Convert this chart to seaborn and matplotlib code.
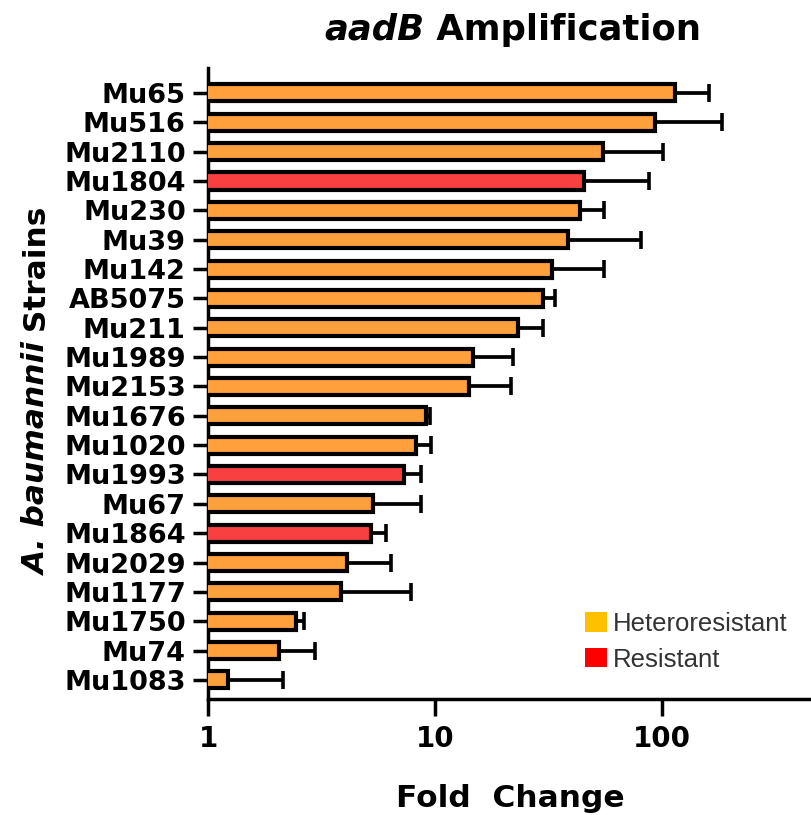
import numpy as np
import pandas as pd
import matplotlib
matplotlib.use("Agg")
import matplotlib.pyplot as plt
from matplotlib.patches import Patch
from matplotlib.ticker import NullLocator, FixedLocator, FixedFormatter
import seaborn as sns

strains = ["Mu65", "Mu516", "Mu2110", "Mu1804", "Mu230", "Mu39", "Mu142",
           "AB5075", "Mu211", "Mu1989", "Mu2153", "Mu1676", "Mu1020",
           "Mu1993", "Mu67", "Mu1864", "Mu2029", "Mu1177", "Mu1750",
           "Mu74", "Mu1083"]
fold_change = [114, 93, 55, 45.5, 43.5, 38.5, 33, 30, 23.3, 14.8, 14.1, 9.1,
               8.25, 7.3, 5.35, 5.25, 4.1, 3.85, 2.45, 2.06, 1.23]
error_upper = [47, 91, 46, 42, 12.1, 42.9, 22.6, 4.0, 6.6, 7.3, 7.5, 0.43,
               1.38, 1.35, 3.3, 0.83, 2.34, 3.98, 0.21, 0.91, 0.91]
phenotype = ["Heteroresistant", "Heteroresistant", "Heteroresistant",
             "Resistant", "Heteroresistant", "Heteroresistant",
             "Heteroresistant", "Heteroresistant", "Heteroresistant",
             "Heteroresistant", "Heteroresistant", "Heteroresistant",
             "Heteroresistant", "Resistant", "Heteroresistant", "Resistant",
             "Heteroresistant", "Heteroresistant", "Heteroresistant",
             "Heteroresistant", "Heteroresistant"]
legend_labels = ["Heteroresistant", "Resistant"]
x_ticks = [1, 10, 100]
x_tick_labels = ["1", "10", "100"]

df = pd.DataFrame({"strain": strains, "fold": fold_change,
                   "err": error_upper, "type": phenotype})

sns.set_theme(style="ticks")
plt.rcParams["font.family"] = ["DejaVu Sans"]

W, H = 812, 815
fig = plt.figure(figsize=(W / 100, H / 100), dpi=100)
ax = fig.add_axes([208 / W, 1 - 699 / H, (W - 208) / W, (699 - 68) / H])

type_colors = {"Heteroresistant": "#FFA03C", "Resistant": "#F84040"}
bar_palette = {s: type_colors[t] for s, t in zip(strains, phenotype)}
sns.barplot(data=df, x="fold", y="strain", hue="strain", palette=bar_palette,
            width=0.58, edgecolor="black", linewidth=3.0, saturation=1,
            errorbar=None, legend=False, orient="h", ax=ax, zorder=3)

ypos = np.arange(len(strains))
ax.errorbar(df["fold"], ypos, xerr=[np.zeros(len(strains)), df["err"]],
            fmt="none", ecolor="black", elinewidth=2.7, capsize=6.5,
            capthick=2.6, zorder=2)

ax.set_xscale("log")
ax.set_xlim(1, 460)
ax.set_ylim(len(strains) - 0.35, -0.85)
ax.xaxis.set_major_locator(FixedLocator(x_ticks))
ax.xaxis.set_major_formatter(FixedFormatter(x_tick_labels))
ax.xaxis.set_minor_locator(NullLocator())

for s in ["top", "right"]:
    ax.spines[s].set_visible(False)
for s in ["left", "bottom"]:
    ax.spines[s].set_linewidth(2.5)
    ax.spines[s].set_color("black")

ax.tick_params(axis="y", length=11, width=2.5, pad=5, labelsize=19.5,
               colors="black")
ax.tick_params(axis="x", length=12, width=2.5, pad=7, labelsize=20,
               colors="black")
for lab in ax.get_yticklabels() + ax.get_xticklabels():
    lab.set_fontweight("bold")

ax.set_ylabel("")
ax.set_xlabel("Fold  Change", fontsize=22.5, fontweight="bold", labelpad=22,
              color="black")

# Title: italic gene name + bold word
t1 = fig.text(324 / W, 1 - 47 / H, "aadB", fontsize=25.5, fontweight="bold",
              fontstyle="italic", ha="left", va="bottom", color="black")
ax.annotate(" Amplification", xy=(1, 0), xycoords=t1, fontsize=25.5,
            fontweight="bold", ha="left", va="bottom", color="black",
            annotation_clip=False)

# Y label: italic species + bold word, rotated
y1 = fig.text(38 / W, 1 - 576 / H, "A. baumannii", fontsize=22.5,
              fontweight="bold", fontstyle="italic", rotation=90,
              ha="center", va="bottom", color="black")
ax.annotate(" Strains", xy=(0.5, 1), xycoords=y1, fontsize=22.5,
            fontweight="bold", rotation=90, ha="center", va="bottom",
            color="black", annotation_clip=False)

handles = [Patch(facecolor="#FFC000", edgecolor="none", label=legend_labels[0]),
           Patch(facecolor="#FF0000", edgecolor="none", label=legend_labels[1])]
ax.legend(handles=handles, loc="upper left",
          bbox_to_anchor=(585 / W, 1 - 612 / H), bbox_transform=fig.transFigure,
          frameon=False, prop={"family": "Liberation Sans", "size": 18.5},
          handlelength=0.86, handleheight=0.8, handletextpad=0.22,
          labelspacing=0.45, borderpad=0, borderaxespad=0,
          labelcolor="#333333")

fig.savefig("out.png", dpi=100)
